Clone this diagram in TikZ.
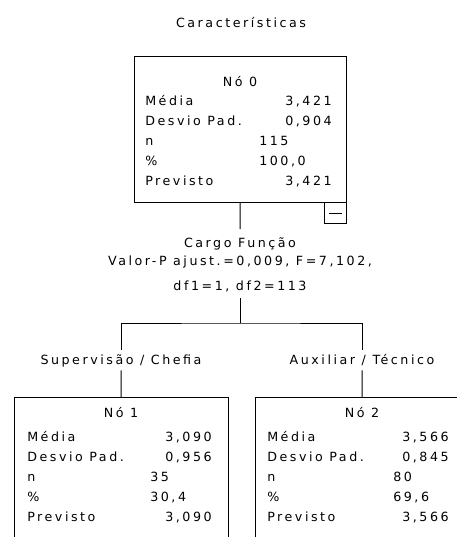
\documentclass[tikz,border=0pt]{standalone}
\usepackage{fontspec}
\setmainfont[LetterSpace=20]{DejaVu Sans}
\usetikzlibrary{positioning}

% rows of one tree node: name, x label, x left values, x right values, y first row
\newcommand{\statrows}[9]{%
  \node[lab] (#1med) at (#2,#5) {Média};
  \node[num] (#1medv) at (#4,#5) {#6};
  \node[lab] (#1dp) at (#2,#5+20) {Desvio Pad.};
  \node[num] (#1dpv) at (#4,#5+20) {#7};
  \node[lab] (#1n) at (#2,#5+40) {n};
  \node[lab] (#1nv) at (#3,#5+40) {#8};
  \node[lab] (#1pct) at (#2,#5+60) {\%};
  \node[lab] (#1pctv) at (#3,#5+60) {#9};
  \node[lab] (#1prev) at (#2,#5+80) {Previsto};
  \node[num] (#1prevv) at (#4,#5+80) {#6};
}

\begin{document}
\begin{tikzpicture}[x=0.75pt,y=-0.75pt,
font=\fontsize{9.5pt}{13.5pt}\selectfont,
box/.style={draw,line width=0.75pt,inner sep=0pt,anchor=north west},
lab/.style={inner sep=0pt,anchor=base west},
num/.style={inner sep=0pt,anchor=base east},
head/.style={inner sep=0pt,anchor=base},
split/.style={anchor=north,align=center,inner xsep=0pt,inner ysep=4.5pt},
branch/.style={anchor=base,inner sep=0pt,text height=10.5pt,text depth=4.5pt},
line/.style={line width=0.75pt}]
\useasboundingbox (0,0) rectangle (457,537);
\clip (0,0) rectangle (457,537);

\node[head] (title) at (241,27) {Características};

% root
\node[box,minimum width=159pt,minimum height=109.5pt] (n0) at (134,56) {};
\node[head] (n0head) at (240,86) {Nó 0};
\statrows{n0}{145}{259}{332}{105}{3,421}{0,904}{115}{100,0}
\node[box,minimum width=16.5pt,minimum height=15.75pt] (n0tog) at (324,202) {\rule{9.75pt}{0.75pt}};

\node[split] (split) at (240,229) {\rule{0pt}{9pt}Cargo Função\\Valor-P ajust.=0,009, F=7,102,\\[5.25pt]df1=1, df2=113};
\coordinate (fork) at (240,323);
\node[branch] (b1) at (121,364) {Supervisão / Chefia};
\node[branch] (b2) at (362,364) {Auxiliar / Técnico};

% children
\node[box,minimum width=160.5pt,minimum height=150pt] (n1) at (14,397) {};
\node[head] (n1head) at (121,417) {Nó 1};
\statrows{n1}{27}{150}{212}{441}{3,090}{0,956}{35}{30,4}
\node[box,minimum width=160.5pt,minimum height=150pt] (n2) at (255,397) {};
\node[head] (n2head) at (362,417) {Nó 2};
\statrows{n2}{267}{393}{449}{441}{3,566}{0,845}{80}{69,6}

\draw[line] (n0) -- (split);
\draw[line] (split) -- (fork);
\draw[line] (b1) |- (fork) -| (b2);
\draw[line] (b1) -- (n1);
\draw[line] (b2) -- (n2);
\end{tikzpicture}
\end{document}
